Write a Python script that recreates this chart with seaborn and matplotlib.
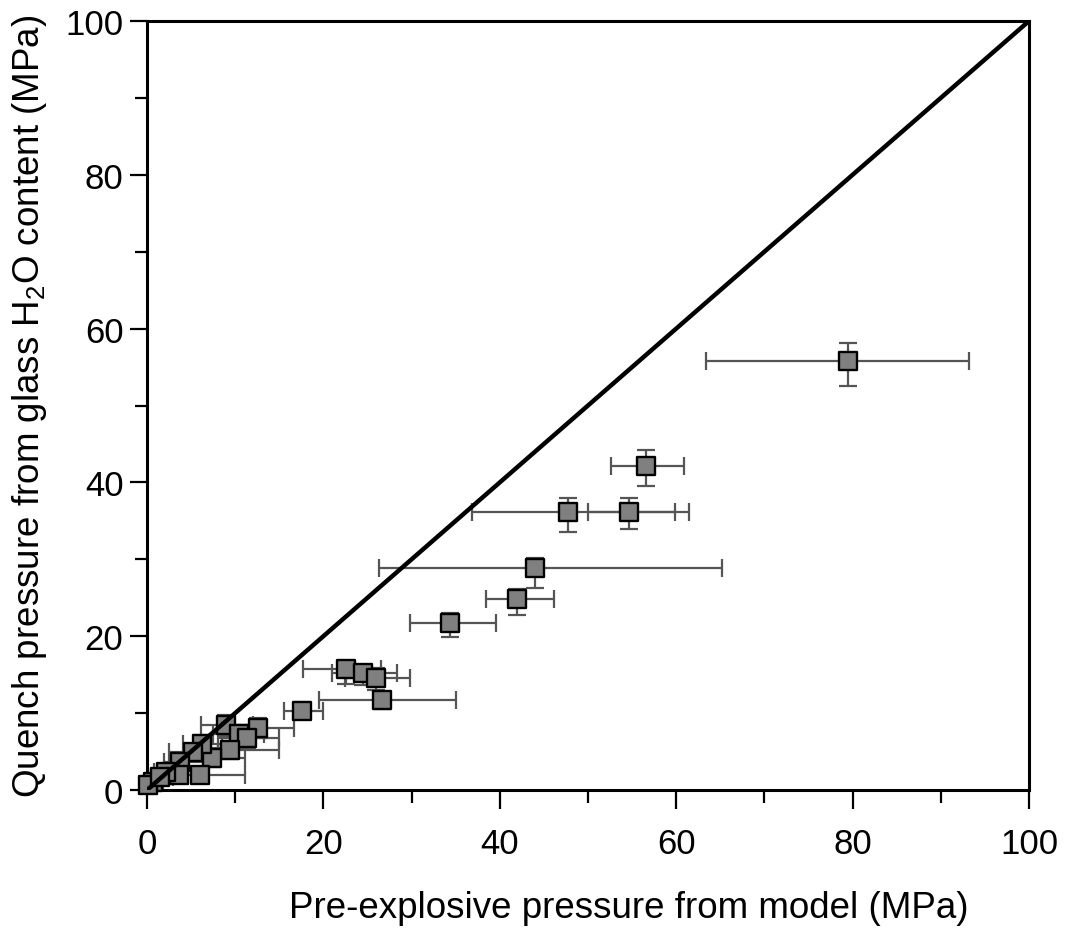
import matplotlib
matplotlib.use("Agg")
import matplotlib.pyplot as plt
import seaborn as sns
import numpy as np
import pandas as pd
from matplotlib.ticker import MultipleLocator

# ---- data (MPa) ----
x_model = [79.5, 56.6, 47.7, 54.6, 44.0, 42.0, 34.4, 22.6, 24.5, 26.0, 26.7, 17.6,
           12.6, 9.0, 10.4, 11.3, 9.4, 7.4, 6.0, 6.2, 5.2, 3.7, 3.6, 2.2, 0.7, 0.15, 1.5]
y_glass = [55.8, 42.1, 36.2, 36.2, 28.9, 24.8, 21.7, 15.7, 15.2, 14.5, 11.7, 10.3,
           8.1, 8.4, 7.3, 6.8, 5.2, 4.2, 2.0, 6.0, 4.9, 3.6, 1.9, 2.3, 1.0, 0.6, 1.7]
x_low = [63.4, 52.6, 36.9, 50.0, 26.3, 38.4, 29.8, 17.7, 21.0, 22.5, 19.5, 15.5,
         9.5, 6.1, 7.5, 8.0, 6.5, 4.5, 3.5, 4.1, 2.5, 1.9, 1.5, 0.8, 0.0, 0.0, 0.5]
x_high = [93.2, 60.9, 59.9, 61.4, 65.2, 46.1, 39.6, 26.5, 28.3, 29.8, 35.0, 19.9,
          16.7, 12.0, 13.3, 15.0, 15.0, 11.1, 11.1, 8.5, 8.0, 6.5, 5.8, 4.0, 1.8, 0.5, 3.0]
y_low = [52.5, 39.5, 33.6, 33.9, 26.3, 22.8, 19.9, 13.8, 13.6, 13.0, 10.5, 9.2,
         6.8, 7.0, 6.0, 5.5, 4.0, 3.0, 1.0, 4.8, 3.8, 2.5, 1.0, 1.3, 0.3, 0.0, 0.8]
y_high = [58.1, 44.2, 38.0, 38.0, 30.2, 26.1, 23.0, 16.5, 16.2, 15.8, 12.8, 11.4,
          9.3, 9.8, 8.5, 8.0, 6.4, 5.4, 3.0, 7.2, 6.0, 4.7, 2.8, 3.2, 1.7, 1.2, 2.5]
one_to_one = [0, 100]

df = pd.DataFrame({"x": x_model, "y": y_glass})
xe = np.array([np.array(x_model) - np.array(x_low), np.array(x_high) - np.array(x_model)])
ye = np.array([np.array(y_glass) - np.array(y_low), np.array(y_high) - np.array(y_glass)])

sns.set_theme(style="white")
plt.rcParams["font.family"] = ["Liberation Sans", "DejaVu Sans"]
plt.rcParams["mathtext.fontset"] = "custom"
plt.rcParams["mathtext.rm"] = "Liberation Sans"
plt.rcParams["mathtext.it"] = "Liberation Sans:italic"

fig = plt.figure(figsize=(10.81, 9.29), dpi=100)
ax = fig.add_axes([147/1081, 1 - 791/929, (1029-147)/1081, (791-22)/929])

ax.errorbar(x_model, y_glass, xerr=xe, yerr=ye, fmt="none", ecolor="#555555",
            elinewidth=1.6, capsize=6.5, capthick=1.6, zorder=2)
sns.scatterplot(data=df, x="x", y="y", marker="s", s=165, color="#808080",
                edgecolor="black", linewidth=1.7, ax=ax, zorder=3, legend=False,
                clip_on=False)
sns.lineplot(x=one_to_one, y=one_to_one, color="black", linewidth=3.2, ax=ax, zorder=4)

ax.set_xlim(0, 100)
ax.set_ylim(0, 100)
ax.xaxis.set_major_locator(MultipleLocator(20))
ax.xaxis.set_minor_locator(MultipleLocator(10))
ax.yaxis.set_major_locator(MultipleLocator(20))
ax.yaxis.set_minor_locator(MultipleLocator(10))
ax.tick_params(axis="both", which="both", direction="out", color="black",
               width=1.6, labelsize=25, labelcolor="black")
ax.tick_params(axis="x", which="major", length=14, pad=13)
ax.tick_params(axis="x", which="minor", length=9.5)
ax.tick_params(axis="y", which="major", length=12, pad=5)
ax.tick_params(axis="y", which="minor", length=8.5)
ax.tick_params(bottom=True, left=True, which="both")
for s in ax.spines.values():
    s.set_color("black")
    s.set_linewidth(2.2)

ax.set_xlabel("Pre-explosive pressure from model (MPa)", fontsize=26.5, color="black")
ax.xaxis.set_label_coords(0.546, -0.13, transform=ax.transAxes)
ax.xaxis.label.set_verticalalignment("top")
ax.set_ylabel("Quench pressure from glass H$_2$O content (MPa)", fontsize=26.5, labelpad=12, color="black")
ax.grid(False)

fig.savefig("out.png", dpi=100)
